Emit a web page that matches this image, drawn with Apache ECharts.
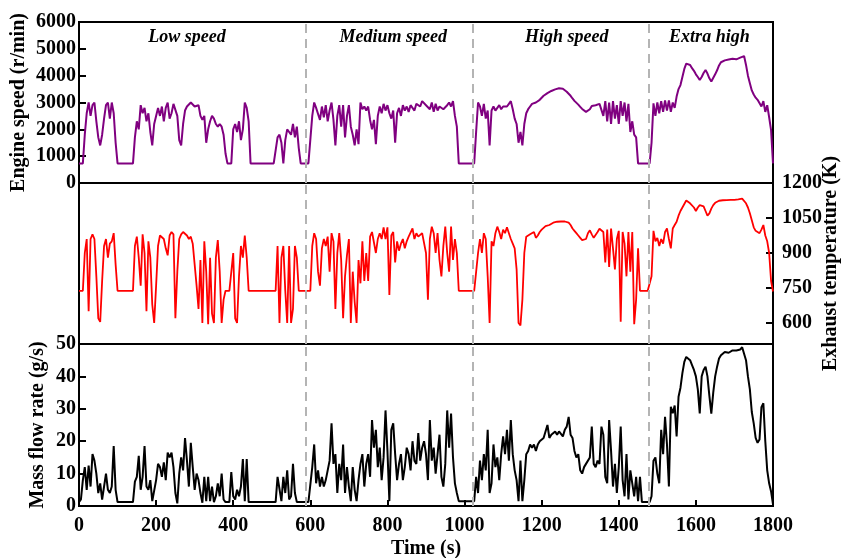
<!DOCTYPE html>
<html>
<head>
<meta charset="utf-8">
<script src="https://cdn.jsdelivr.net/npm/echarts@6/dist/echarts.min.js"></script>
<style>
html,body{margin:0;padding:0;background:#fff;}
#chart{width:842px;height:558px;}
</style>
</head>
<body>
<div id="chart"></div>
<script>
// sampling step of the traces (s)
const timeStep = 5;

// Engine speed (r/min), one value every 5 s from 0 to 1800 s
const engineSpeed = [
  730,730,730,1800,2600,3000,2500,2900,3000,2300,
  1700,1400,1800,2400,2900,3000,2400,3000,2600,1500,
  730,730,730,730,730,730,730,730,730,1700,
  2300,2000,2900,2600,2800,2300,2600,1900,1400,2200,
  2500,2800,2500,2850,2300,2800,3000,2400,2600,2950,
  3000,2500,1600,1400,2200,2700,2850,2900,3000,2950,
  2850,2800,2900,2500,2350,2500,1500,2000,2300,2500,
  2400,2200,2100,2200,2100,1800,1100,730,730,730,
  2000,2200,1900,2300,1600,2000,3000,2800,2300,730,
  730,730,730,730,730,730,730,730,730,730,
  730,730,730,1700,1800,1500,730,1600,2000,1900,
  1800,2200,1700,2100,1300,730,730,730,730,730,
  730,2500,3000,2800,2750,2350,2850,2450,2900,2300,
  2700,3000,2350,1400,2500,2900,2100,2900,1700,2500,
  2900,2100,1800,1400,2000,1450,3000,2750,2850,2700,
  2850,2350,2000,2350,1450,2500,2850,2600,2950,2700,
  2900,2600,2400,2700,1500,2600,2800,2500,2900,2700,
  2850,2650,2900,2800,2700,2950,3000,2850,3050,3000,
  2900,2850,2750,3000,2650,2950,2700,2850,2800,2750,
  2800,2900,3000,2850,3050,2500,2100,730,730,730,
  730,730,730,730,730,730,1900,3000,2850,2500,
  2950,2400,2700,1400,2700,2850,2700,2800,2900,2750,
  2850,2800,2850,2950,3050,2750,2400,2200,1500,1900,
  1400,2200,2600,2750,2850,2950,2950,3000,3050,3100,
  3150,3250,3300,3350,3400,3430,3460,3490,3510,3530,
  3530,3510,3480,3400,3330,3250,3150,3060,2990,2920,
  2840,2760,2700,2650,2610,2750,2870,2880,2900,2880,
  2950,3000,2500,3050,2300,3000,2200,3050,2400,2900,
  2200,3050,2500,3000,2300,2950,1900,2300,1800,1700,
  730,730,730,730,730,730,730,1500,2970,2500,
  3000,2600,3050,2650,3080,2700,3080,2650,3000,2800,
  3220,3500,3650,3950,4250,4450,4460,4400,4280,4180,
  4050,3950,3840,3950,4100,4210,4080,3900,3780,3840,
  4050,4200,4380,4500,4560,4570,4590,4600,4600,4630,
  4620,4610,4650,4670,4700,4730,4400,4000,3720,3450,
  3300,3180,3100,3030,2850,3050,2650,2900,2450,1970,
  730
];

// Exhaust temperature (K), one value every 5 s
const exhaustTemp = [
  738,738,738,900,960,650,960,980,960,800,
  620,605,780,930,960,880,940,950,985,850,
  738,738,738,738,738,738,738,738,738,930,
  970,880,760,980,900,650,950,880,680,600,
  760,930,975,970,960,920,890,975,990,980,
  620,820,960,980,990,985,975,960,970,940,
  850,760,660,870,600,950,820,595,880,640,
  600,880,955,820,600,700,738,738,738,738,
  900,620,600,800,930,880,975,880,738,738,
  738,738,738,738,738,738,738,738,738,738,
  738,738,738,930,600,880,930,738,600,930,
  600,660,930,880,738,738,738,738,738,738,
  738,930,985,960,820,760,920,960,930,970,
  820,985,950,660,900,985,870,620,800,890,
  960,600,820,690,600,870,770,950,780,900,
  780,970,990,985,900,960,985,960,1010,960,
  1010,720,975,990,860,950,910,940,960,920,
  950,970,975,1005,960,985,970,975,985,990,
  900,700,960,1013,985,900,985,870,800,930,
  1013,900,820,1013,870,960,900,738,738,738,
  738,738,738,738,738,738,738,900,960,900,
  985,960,800,600,950,930,985,1013,990,960,
  1000,985,1010,985,960,940,920,830,600,590,
  700,900,970,975,980,985,990,965,975,990,
  1000,1008,1015,1018,1020,1025,1030,1032,1034,1034,
  1035,1035,1035,1032,1030,1020,1005,995,985,975,
  965,955,948,960,985,997,980,965,962,990,
  1004,1005,990,860,1000,840,1005,920,830,960,
  995,605,990,940,800,990,820,990,595,700,
  920,738,738,738,738,738,738,800,995,950,
  965,930,960,940,990,1005,960,920,1005,1020,
  1034,1060,1080,1095,1110,1125,1120,1113,1105,1095,
  1080,1095,1105,1108,1100,1080,1060,1070,1090,1105,
  1115,1120,1124,1125,1126,1126,1127,1127,1128,1128,
  1128,1129,1130,1131,1133,1128,1113,1095,1070,1040,
  1010,995,990,985,1000,1020,975,950,900,780,
  735
];

// Mass flow rate (g/s), one value every 5 s
const massFlow = [
  1.2,2,8,12,5,12.5,6,16,14,10,
  4,7,2,1.5,10,5,4,6,18.5,5,
  1.2,1.2,1.2,1.2,1.2,1.2,1.2,1.2,1.2,7.5,
  9,15.5,5,9,18.5,6,5,8,1.5,1.2,
  8,13,12,9,13.5,8,16.5,15,16.5,12,
  4,0.8,10,15,11,21,14,6,19.5,12,
  5,10,8,4,1,9,1.5,9,1.5,6,
  1.2,3,7,3,10,2,1.2,1.2,1.2,10.5,
  3,2,5,3,6,14.5,1.5,14.5,1.2,1.2,
  1.2,1.2,1.2,1.2,1.2,1.2,1.2,1.2,1.2,1.2,
  1.2,1.2,1.2,9,9,1.5,9,4,11,2,
  3,13,4,1.2,1.2,1.2,1.2,1.2,1.2,1.2,
  1.2,12,19,7,11,6,9,6,8,11,
  14,25.5,13,16,4,13,8,19,4,12,
  6,1.5,12,5,1.5,8,13,16,6,13,
  16,9,26.5,18,23.5,12,18,8,15,29.5,
  17,1.5,23.5,25.5,16,8,13,16,8,12,
  18,16,11,20,14,13,22.5,14,18,20,
  16,8,26.5,14,18,10,16,22,9,6,
  13,29.5,18,28.5,15,7,4,1.5,1.5,1.5,
  1.5,1.5,1.5,1.5,1.5,1.5,9,4,14,8,
  16,11,23.5,4,7,19,12,15,8,16,
  21.5,16,23.5,14,26.5,16,11,8,1.5,14,
  1.5,8,16,17,19,18,19,17,19,20,
  20,21,21.5,25,21,22,22,23,22,23,
  23.5,21.5,23.5,24.5,27.5,22,21,17,15,16,
  11,10,12,13,12.5,15,24.5,13,12,14,
  13,24.5,22,9,7,26.5,17,6,13,4,
  12,24.5,8,3,16,2,11,7,3,9,
  1.5,9,1.2,1.2,1.2,1.2,1.2,3,14,15,
  10,7,23.5,16,27.5,19,6,30.6,28.6,31,
  21.5,33.7,36.5,41,44.5,46,45.5,45,43.5,42,
  40,36,28.6,40,42,43,40,34,28.5,35,
  40,43,45.5,46.5,47,47.5,47.6,47.3,47.6,48,
  48.2,48,48.2,48.3,49,49.2,45,40,36,29,
  25.5,21,19.5,20.5,30.5,31.7,20,11,7,4.5,
  0.5
];

// phase boundaries (s) and phase names
const phaseBounds = [589, 1022, 1477];
const phaseNames = ['Low speed', 'Medium speed', 'High speed', 'Extra high'];
const phaseLabelTimes = [280, 815, 1265, 1635];

// tick labels
const timeTicks = [0, 200, 400, 600, 800, 1000, 1200, 1400, 1600, 1800];
const tempTicks = [600, 750, 900, 1050, 1200];

const timeS = engineSpeed.map((_, i) => i * timeStep);
const pairs = arr => arr.map((v, i) => [timeS[i], v]);

const FONT = 'Liberation Serif';
const plain = v => String(v);
const lblStyle = { fontFamily: FONT, fontWeight: 'bold', fontSize: 20, color: '#000' };
const nameStyle = { fontFamily: FONT, fontWeight: 'bold', fontSize: 20, color: '#000' };
const axLine = { show: true, onZero: false, lineStyle: { color: '#000', width: 2 } };

const chart = echarts.init(document.getElementById('chart'), null, { renderer: 'canvas' });

const gridBase = {
  left: 79, right: 69, show: true, borderColor: '#000', borderWidth: 2,
  backgroundColor: 'transparent', containLabel: false, outerBoundsMode: 'none'
};

const phaseMarkLine = {
  silent: true,
  symbol: 'none',
  label: { show: false },
  lineStyle: { color: '#b4b4b4', width: 2, type: [9, 6] },
  data: phaseBounds.map(b => ({ xAxis: b }))
};

const hiddenX = (gi) => ({
  type: 'value', gridIndex: gi, min: 0, max: 1800, interval: 200,
  axisLine: { show: false, onZero: false }, axisTick: { show: false }, axisLabel: { show: false }, splitLine: { show: false }
});

const option = {
  animation: false,
  backgroundColor: '#fff',
  grid: [
    Object.assign({ top: 22, height: 161 }, gridBase),
    Object.assign({ top: 183, height: 161 }, gridBase),
    Object.assign({ top: 344, height: 162 }, gridBase)
  ],
  xAxis: [
    hiddenX(0),
    hiddenX(1),
    {
      type: 'value', gridIndex: 2, min: 0, max: 1800, interval: 200,
      axisLine: axLine,
      axisTick: { show: true, inside: true, length: 6, lineStyle: { color: '#000', width: 2 } },
      axisLabel: Object.assign({ margin: 10, formatter: v => timeTicks.includes(v) ? String(v) : '' }, lblStyle),
      splitLine: { show: false },
      name: 'Time (s)', nameLocation: 'middle', nameGap: 33, nameMoveOverlap: false,
      nameTextStyle: nameStyle
    }
  ],
  yAxis: [
    {
      type: 'value', gridIndex: 0, min: 0, max: 6000, interval: 1000,
      axisLine: axLine,
      axisTick: { show: true, inside: true, length: 7, lineStyle: { color: '#000', width: 2 } },
      axisLabel: Object.assign({ margin: 3, formatter: plain }, lblStyle),
      splitLine: { show: false },
      name: 'Engine speed (r/min)', nameLocation: 'middle', nameRotate: 90, nameGap: 50, nameMoveOverlap: false,
      nameTextStyle: nameStyle
    },
    {
      type: 'value', gridIndex: 1, position: 'right', min: 510, max: 1200,
      axisLine: axLine,
      axisTick: { show: true, inside: true, length: 7, customValues: tempTicks, lineStyle: { color: '#000', width: 2 } },
      axisLabel: Object.assign({ margin: 9, customValues: tempTicks, formatter: plain }, lblStyle),
      splitLine: { show: false },
      name: 'Exhaust temperature (K)', nameLocation: 'middle', nameRotate: 90, nameGap: 48, nameMoveOverlap: false,
      nameTextStyle: nameStyle
    },
    {
      type: 'value', gridIndex: 2, min: 0, max: 50, interval: 10,
      axisLine: axLine,
      axisTick: { show: true, inside: true, length: 7, lineStyle: { color: '#000', width: 2 } },
      axisLabel: Object.assign({ margin: 3, formatter: plain }, lblStyle),
      splitLine: { show: false },
      name: 'Mass flow rate (g/s)', nameLocation: 'middle', nameRotate: 90, nameGap: 31, nameMoveOverlap: false,
      nameTextStyle: nameStyle
    }
  ],
  series: [
    {
      type: 'line', xAxisIndex: 0, yAxisIndex: 0, data: pairs(engineSpeed),
      showSymbol: false, lineStyle: { color: '#800080', width: 2 }, z: 3,
      markLine: phaseMarkLine
    },
    {
      type: 'line', xAxisIndex: 1, yAxisIndex: 1, data: pairs(exhaustTemp),
      showSymbol: false, lineStyle: { color: '#ff0000', width: 1.8 }, z: 3,
      markLine: phaseMarkLine
    },
    {
      type: 'line', xAxisIndex: 2, yAxisIndex: 2, data: pairs(massFlow),
      showSymbol: false, lineStyle: { color: '#000000', width: 2 }, z: 3,
      markLine: phaseMarkLine
    }
  ]
};

chart.setOption(option);

// phase captions placed through the x scale of the top grid
const captionY = 37;
chart.setOption({
  graphic: phaseNames.map((name, i) => {
    const px = chart.convertToPixel({ xAxisIndex: 0 }, phaseLabelTimes[i]);
    return {
      type: 'text', x: px, y: captionY, silent: true,
      style: {
        text: name, fill: '#000', align: 'center', verticalAlign: 'middle',
        fontFamily: FONT, fontWeight: 'bold', fontStyle: 'italic', fontSize: 18
      }
    };
  })
});
</script>
</body>
</html>
